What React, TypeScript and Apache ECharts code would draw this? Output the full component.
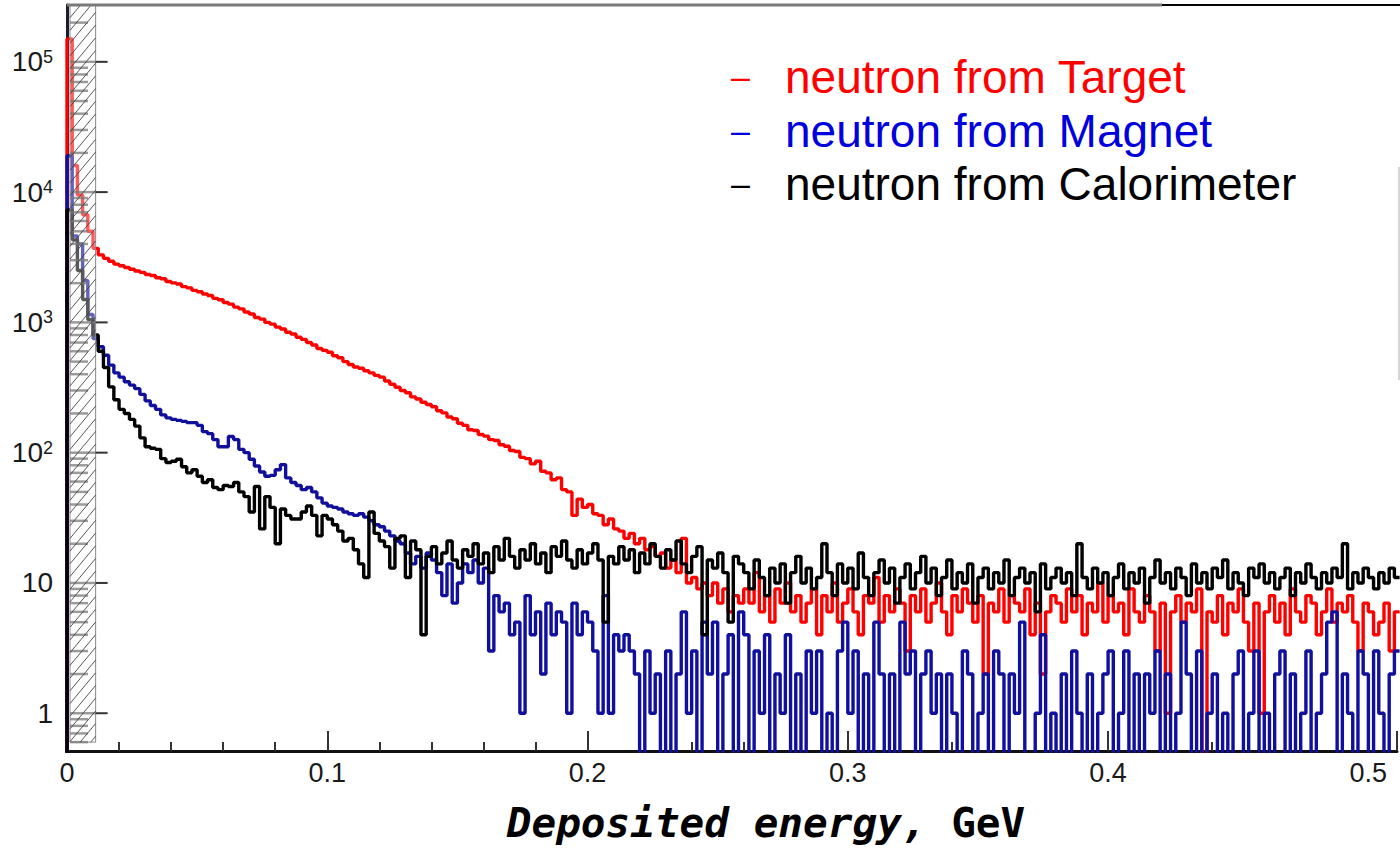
import React, { useEffect, useRef } from 'react';
import * as echarts from 'echarts';

// ---------- data ----------
const BIN_WIDTH = 0.002; // GeV per bin
const X_MAX = 0.511;
const Y_MIN = 0.513;
const Y_MAX = 273000;
const FLOOR = 0.05; // empty bins drawn below the axis
const HATCH_EDGE = 0.011;
const X_TICK_LABELS = [0, 0.1, 0.2, 0.3, 0.4, 0.5];
const Y_DECADES = [1, 10, 100, 1000, 10000, 100000];

const target = [
  150000, 16000, 9500, 6700, 5000, 3700, 3300, 3100, 2950, 2800,
  2720, 2640, 2560, 2480, 2420, 2330, 2290, 2200, 2160, 2060,
  2010, 1970, 1880, 1840, 1760, 1720, 1650, 1610, 1530, 1490,
  1420, 1380, 1310, 1270, 1200, 1160, 1090, 1060, 1000, 970,
  920, 890, 840, 815, 770, 740, 700, 670, 630, 610,
  590, 555, 535, 500, 475, 455, 445, 425, 410, 392,
  380, 355, 335, 318, 300, 288, 268, 258, 244, 234,
  225, 210, 202, 188, 182, 168, 162, 150, 148, 138,
  134, 126, 124, 115, 112, 104, 102, 92, 90, 82,
  86, 72, 70, 62, 64, 52, 50, 33, 44, 38,
  40, 34, 33, 28, 31, 26, 25, 22, 24, 20,
  22, 18, 19, 16, 17, 13, 15, 12, 22, 10,
  11, 9, 10, 8, 10, 7, 9, 6, 8, 7,
  9, 7, 12, 6, 8, 5, 9, 7, 10, 6,
  8, 5, 7, 9, 4, 8, 6, 10, 5, 7,
  9, 6, 4, 8, 7, 11, 5, 8, 6, 9,
  7, 3, 8, 6, 9, 5, 7, 10, 6, 4,
  8, 6, 9, 7, 5, 8, 2, 7, 6, 9,
  5, 8, 7, 6, 9, 4, 7, 2, 6, 8,
  7, 5, 9, 6, 8, 4, 7, 6, 10, 5,
  8, 6, 7, 4, 9, 6, 5, 8, 6, 3,
  7, 1, 6, 8, 5, 7, 6, 9, 0, 6,
  5, 8, 4, 7, 6, 9, 5, 3, 7, 1,
  6, 8, 5, 7, 4, 9, 6, 5, 8, 7,
  4, 6, 9, 5, 7, 6, 8, 5, 3, 7,
  6, 4, 5, 7, 3, 6,
];

const magnet = [
  19000, 4600, 4000, 2100, 1150, 750, 650, 560, 470, 410,
  380, 350, 330, 310, 280, 250, 230, 215, 195, 185,
  180, 177, 174, 170, 170, 162, 145, 140, 126, 111,
  111, 133, 126, 106, 100, 89, 79, 71, 66, 67,
  74, 81, 64, 59, 56, 52, 54, 50, 45, 41,
  39, 38, 37, 35, 34, 33, 34, 32, 30, 28,
  27, 25, 23, 21, 20, 17, 14, 16, 13, 17,
  15, 12, 8, 14, 7, 10, 14, 12, 15, 10,
  13, 3, 8, 6, 7, 4, 5, 1, 8, 4,
  6, 2, 7, 4, 6, 5, 1, 7, 4, 6,
  5, 3, 1, 8, 1, 4, 3, 4, 3, 2,
  0, 3, 1, 2, 0, 3, 0, 2, 6, 1,
  3, 0, 5, 2, 5, 0, 2, 4, 0, 6,
  4, 0, 3, 1, 4, 0, 2, 1, 4, 0,
  2, 0, 3, 1, 3, 0, 1, 0, 3, 5,
  1, 3, 0, 2, 0, 5, 2, 0, 2, 0,
  5, 2, 3, 0, 2, 3, 1, 2, 0, 2,
  1, 0, 3, 2, 0, 1, 2, 0, 3, 2,
  0, 2, 1, 5, 0, 0, 1, 4, 0, 1,
  0, 2, 0, 3, 1, 0, 2, 0, 1, 2,
  3, 0, 1, 3, 0, 2, 0, 2, 1, 3,
  0, 2, 0, 1, 5, 2, 0, 3, 0, 1,
  2, 0, 1, 0, 2, 3, 0, 1, 3, 0,
  1, 0, 2, 3, 0, 2, 0, 1, 3, 0,
  1, 2, 5, 6, 0, 2, 1, 0, 3, 2,
  0, 3, 1, 0, 2, 3,
];

const calorimeter = [
  7300, 4300, 2500, 1500, 1050, 800, 600, 450, 320, 255,
  215, 200, 180, 160, 130, 111, 108, 106, 90, 84,
  86, 89, 78, 70, 74, 66, 59, 62, 54, 52,
  56, 55, 59, 50, 46, 35, 55, 26, 46, 38,
  20, 37, 33, 31, 31, 35, 39, 33, 23, 33,
  31, 28, 25, 21, 22, 18, 14, 11, 35, 24,
  21, 19, 13, 22, 23, 11, 21, 18, 4, 16,
  19, 14, 17, 21, 15, 13, 18, 16, 20, 14,
  17, 12, 19, 15, 22, 16, 13, 18, 15, 20,
  14, 17, 12, 19, 16, 21, 15, 13, 18, 14,
  17, 20, 15, 5, 16, 14, 19, 15, 18, 12,
  17, 14, 20, 16, 13, 18, 15, 21, 14, 12,
  16, 19, 4, 15, 13, 17, 12, 5, 16, 14,
  12, 9, 15, 11, 8, 13, 10, 14, 7, 12,
  16, 10, 13, 9, 11, 20, 12, 8, 14, 10,
  13, 9, 17, 11, 8, 12, 15, 10, 13, 7,
  11, 14, 9, 12, 16, 10, 13, 8, 11, 15,
  9, 12, 10, 14, 7, 11, 13, 9, 12, 10,
  15, 8, 11, 13, 10, 12, 6, 14, 9, 11,
  13, 10, 12, 8, 20, 11, 9, 13, 10, 12,
  8, 11, 14, 9, 12, 10, 13, 7, 11, 15,
  10, 12, 9, 13, 11, 8, 14, 10, 12, 9,
  13, 11, 15, 9, 12, 10, 8, 13, 11, 14,
  10, 12, 9, 11, 13, 8, 12, 10, 14, 11,
  9, 12, 10, 13, 11, 20, 9, 12, 10, 13,
  11, 9, 12, 10, 13, 11,
];

const SERIES_NAMES = ['neutron from Target', 'neutron from Magnet', 'neutron from Calorimeter'];
const SERIES_COLORS = ['#ff0000', '#10109c', '#000000'];
const LEGEND_COLORS = ['#ff0000', '#0000dd', '#000000'];

// ---------- helpers ----------
const SANS = "'Liberation Sans', Arial, Helvetica, sans-serif";
const MONO = "'DejaVu Sans Mono', monospace";

function toSteps(vals: number[]): number[][] {
  const pts: number[][] = [[0, FLOOR]];
  vals.forEach((v, i) => pts.push([+(i * BIN_WIDTH).toFixed(4), v > 0 ? v : FLOOR]));
  const last = vals[vals.length - 1];
  pts.push([+(vals.length * BIN_WIDTH).toFixed(4), last > 0 ? last : FLOOR]);
  return pts;
}

function isDecade(v: number) {
  const l = Math.log10(v);
  return Math.abs(l - Math.round(l)) < 1e-6;
}

function buildOption(): any {
  const all = [target, magnet, calorimeter];
  return {
    animation: false,
    backgroundColor: '#ffffff',
    grid: { left: 67, right: 0, top: 5, bottom: 98, containLabel: false },
    xAxis: {
      type: 'value',
      min: 0,
      max: X_MAX,
      interval: 0.1,
      axisLine: { show: true, lineStyle: { color: '#111111', width: 3 } },
      axisTick: { show: true, inside: true, length: 20, lineStyle: { color: '#333333', width: 2 } },
      minorTick: { show: true, splitNumber: 5, length: 9, lineStyle: { color: '#333333', width: 2 } },
      splitLine: { show: false },
      axisLabel: {
        margin: 8,
        fontSize: 27,
        fontFamily: SANS,
        color: '#1a1a1a',
        formatter: (v: number) => {
          const hit = X_TICK_LABELS.find((t) => Math.abs(t - v) < 1e-6);
          if (hit === undefined) return '';
          return hit === 0 ? '0' : hit.toFixed(1);
        },
      },
    },
    yAxis: {
      type: 'log',
      logBase: 10,
      min: Y_MIN,
      max: Y_MAX,
      axisLine: { show: true, lineStyle: { color: '#1c1c2c', width: 3 } },
      axisTick: { show: false },
      splitLine: { show: false },
      axisLabel: {
        margin: 14,
        fontSize: 28,
        fontFamily: SANS,
        color: '#1a1a1a',
        formatter: (v: number) => {
          if (!isDecade(v)) return '';
          const e = Math.round(Math.log10(v));
          if (e === 0) return '1';
          if (e === 1) return '10';
          return '10{s|' + e + '}';
        },
        rich: {
          s: { fontSize: 18, fontFamily: SANS, color: '#1a1a1a', verticalAlign: 'top', padding: [0, 0, 10, 0] },
        },
      },
    },
    series: all.map((vals, k) => ({
      type: 'line',
      name: SERIES_NAMES[k],
      step: 'end',
      symbol: 'none',
      clip: true,
      z: 2 + k,
      data: toSteps(vals),
      lineStyle: { color: SERIES_COLORS[k], width: 3.4 },
      itemStyle: { color: SERIES_COLORS[k] },
    })),
  };
}

function buildGraphics(chart: any): any[] {
  const xp = (v: number) => chart.convertToPixel({ xAxisIndex: 0 }, v) as number;
  const yp = (v: number) => chart.convertToPixel({ yAxisIndex: 0 }, v) as number;
  const els: any[] = [];
  const x0 = xp(0);
  const x1 = x0 + 3;
  const x2 = xp(HATCH_EDGE);
  const yt = 5;
  const yb = yp(0.6);

  // hatched band (white veil + frame)
  els.push({
    type: 'rect', z: 100,
    shape: { x: x1, y: yt, width: x2 - x1, height: yb - yt },
    style: { fill: 'rgba(255,255,255,0.35)', stroke: '#8a8a8a', lineWidth: 1 },
  });
  // original axis minor ticks seen through the band
  for (let k = -1; k <= 5; k++) {
    for (let n = 1; n <= 9; n++) {
      const v = n * Math.pow(10, k);
      if (v < Y_MIN || v > Y_MAX) continue;
      const y = yp(v);
      els.push({
        type: 'line', z: 101,
        shape: { x1: x1, y1: y, x2: n === 1 ? x2 : x1 + 18, y2: y },
        style: { stroke: 'rgba(120,120,120,0.75)', lineWidth: 2.5 },
      });
    }
  }
  // hatch lines
  const s = 1.2;
  const w = x2 - x1;
  for (let c = yt; c <= yb + s * w + 13; c += 12.7) {
    const xs = Math.max(x1, x1 + (c - yb) / s);
    const xe = Math.min(x2, x1 + (c - yt) / s);
    if (xe <= xs) continue;
    els.push({
      type: 'line', z: 102,
      shape: { x1: xs, y1: c - s * (xs - x1), x2: xe, y2: c - s * (xe - x1) },
      style: { stroke: '#444444', lineWidth: 0.9 },
    });
  }
  // major y ticks
  Y_DECADES.forEach((v) => {
    const y = yp(v);
    els.push({
      type: 'line', z: 103,
      shape: { x1: x2, y1: y, x2: x2 + 12, y2: y },
      style: { stroke: '#333333', lineWidth: 2 },
    });
  });
  // top frame
  els.push({ type: 'line', z: 103, shape: { x1: x0, y1: 5, x2: 1162, y2: 5 }, style: { stroke: '#7a7a7a', lineWidth: 3 } });
  els.push({ type: 'line', z: 103, shape: { x1: 1162, y1: 5, x2: 1400, y2: 5 }, style: { stroke: '#000000', lineWidth: 2 } });
  // faint right edge line
  els.push({ type: 'line', z: 103, shape: { x1: 1399, y1: 167, x2: 1399, y2: 380 }, style: { stroke: '#c8c8c8', lineWidth: 1.5 } });

  // legend
  const legendY = [77, 131, 184];
  SERIES_NAMES.forEach((name, k) => {
    els.push({
      type: 'text', z: 110, x: 731, y: legendY[k] - 1,
      style: { text: '–', fill: LEGEND_COLORS[k], font: `34px ${SANS}`, align: 'left', verticalAlign: 'middle' },
    });
    els.push({
      type: 'text', z: 110, x: 785, y: legendY[k],
      style: { text: name, fill: LEGEND_COLORS[k], font: `46px ${SANS}`, align: 'left', verticalAlign: 'middle' },
    });
  });

  // axis title
  els.push({
    type: 'text', z: 110, x: 766, y: 823,
    style: {
      text: '{a|Deposited energy,} {b|GeV}',
      font: `bold 41px ${MONO}`,
      fill: '#000000',
      align: 'center',
      verticalAlign: 'middle',
      rich: {
        a: { fontFamily: MONO, fontSize: 41, fontWeight: 'bold', fontStyle: 'italic', fill: '#000000' },
        b: { fontFamily: MONO, fontSize: 41, fontWeight: 'bold', fill: '#000000' },
      },
    },
  });
  return els;
}

export default function App() {
  const ref = useRef<HTMLDivElement>(null);
  useEffect(() => {
    if (!ref.current) return;
    const chart = echarts.init(ref.current, null, { renderer: 'svg' });
    chart.setOption(buildOption());
    chart.setOption({ graphic: buildGraphics(chart) });
    return () => chart.dispose();
  }, []);
  return (
    <div
      ref={ref}
      style={{ position: 'fixed', left: 0, top: 0, width: 1400, height: 849, background: '#ffffff' }}
    />
  );
}
